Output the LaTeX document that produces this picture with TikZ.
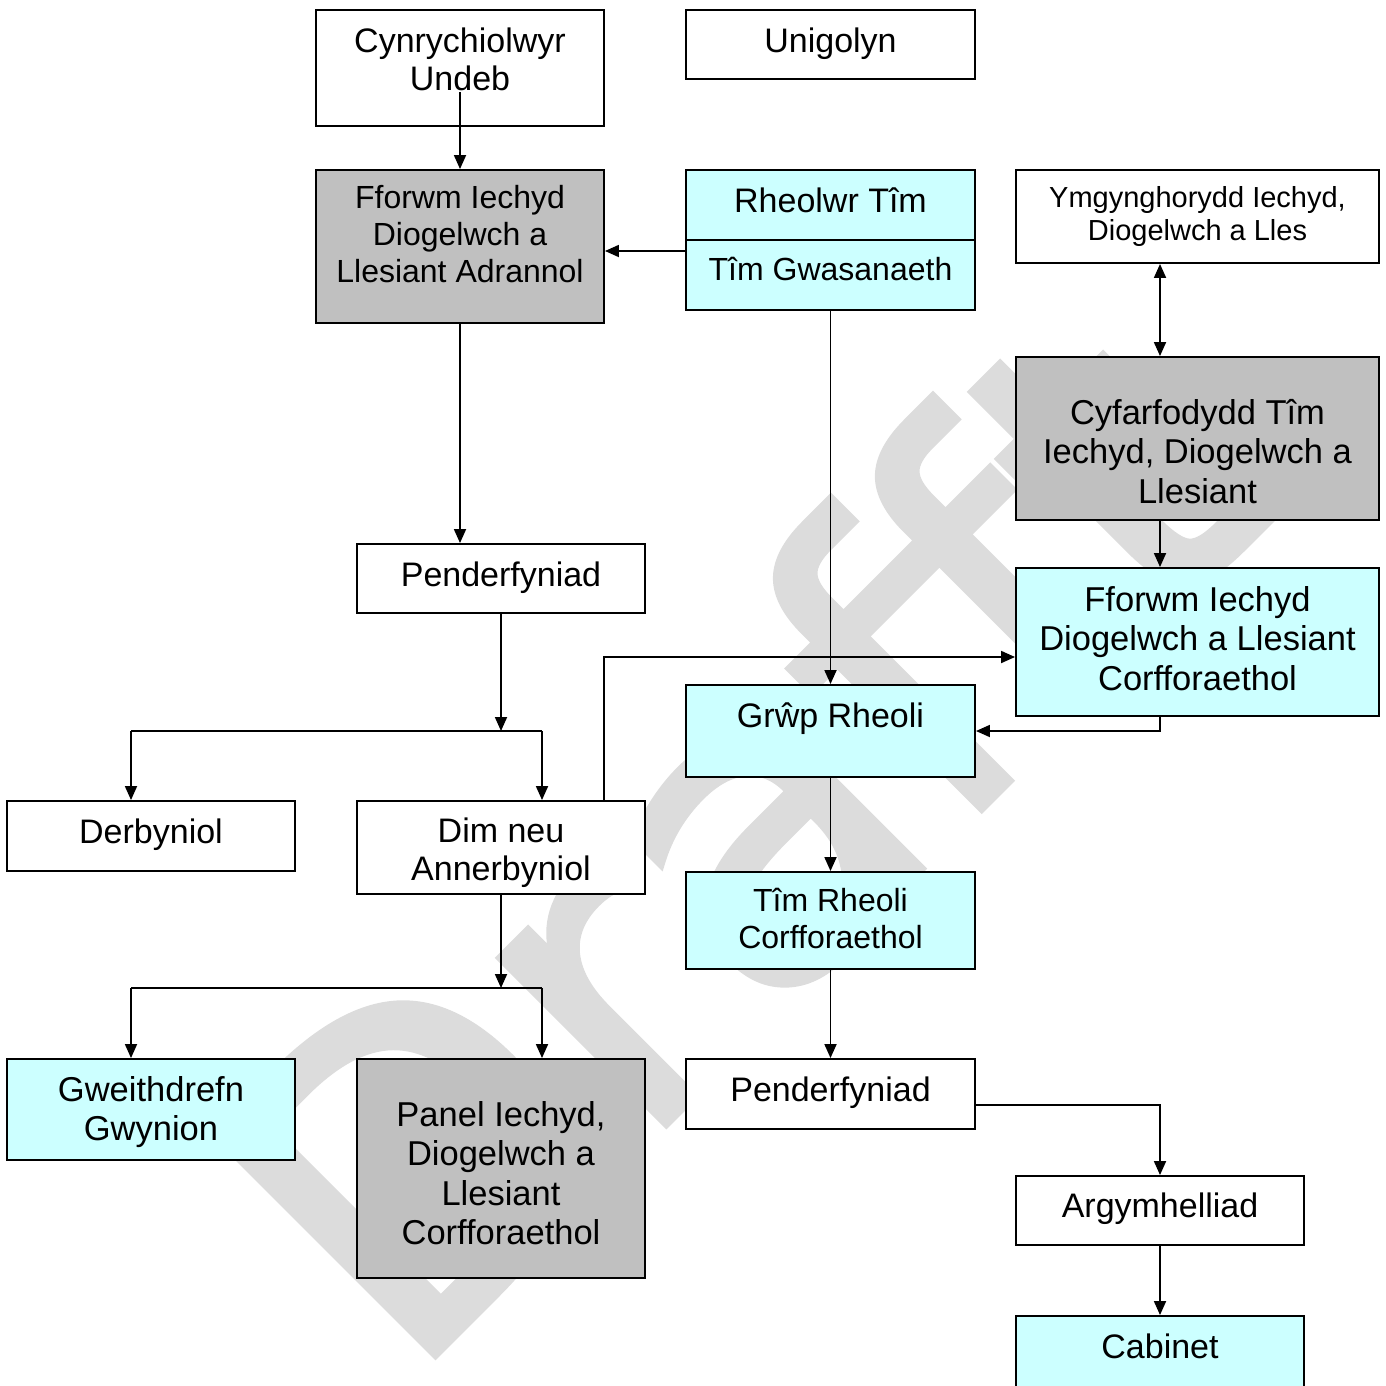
\documentclass[tikz,border=0pt]{standalone}
\usepackage{fontspec}
\setmainfont{Liberation Sans}
\newfontfamily\wmfont[FakeBold=2]{DejaVu Sans}
\usetikzlibrary{arrows.meta,calc}
\definecolor{boxcyan}{HTML}{CCFFFF}
\definecolor{boxgray}{HTML}{C0C0C0}
\definecolor{wmgray}{HTML}{DCDCDC}
\begin{document}
\begin{tikzpicture}[x=1pt,y=-1pt,
  box/.style={draw=black, line width=1.9pt, inner sep=0pt, minimum width=288pt},
  wbox/.style={box, fill=white},
  cbox/.style={box, fill=boxcyan},
  gbox/.style={box, fill=boxgray},
  lbl/.style={inner sep=0pt, align=center, anchor=north},
  fA/.style={lbl, font=\fontsize{34}{38.5}\selectfont},
  fB/.style={lbl, font=\fontsize{32}{37}\selectfont},
  fC/.style={lbl, font=\fontsize{29}{33.5}\selectfont},
  fD/.style={lbl, font=\fontsize{34.5}{39.5}\selectfont},
  tip/.tip={Triangle[length=14pt,width=12pt]},
  link/.style={line width=1.8pt, draw=black},
  conn/.style={link, -tip},
  dconn/.style={link, tip-tip},
]
\useasboundingbox (0,0) rectangle (1386,1385);
% watermark
\node[rotate=45, text=wmgray, inner sep=0pt, font=\wmfont\fontsize{428}{428}\selectfont] (wm) at (728,836) {Drafft};

% boxes
\node[wbox, minimum height=116pt] (cyn) at (460,68) {};
\node[wbox, minimum width=289pt, minimum height=69pt] (uni) at (830.5,44.5) {};
\node[gbox, minimum height=153pt] (fad) at (460,246.5) {};
\node[cbox, minimum width=289pt, minimum height=140pt] (rheol) at (830.5,240) {};
\node[wbox, minimum width=363pt, minimum height=93pt] (ymg) at (1197.5,216.5) {};
\node[gbox, minimum width=363pt, minimum height=163pt] (cyf) at (1197.5,438.5) {};
\node[cbox, minimum width=363pt, minimum height=148pt] (fcor) at (1197.5,642) {};
\node[wbox, minimum height=69pt] (pen1) at (501,578.5) {};
\node[cbox, minimum width=289pt, minimum height=92pt] (grwp) at (830.5,731) {};
\node[wbox, minimum height=70pt] (derb) at (151,836) {};
\node[wbox, minimum height=93pt] (dim) at (501,847.5) {};
\node[cbox, minimum width=289pt, minimum height=97pt] (trc) at (830.5,920.5) {};
\node[cbox, minimum height=101pt] (gwe) at (151,1109.5) {};
\node[gbox, minimum height=219pt] (panel) at (501,1168.5) {};
\node[wbox, minimum width=289pt, minimum height=70pt] (pen2) at (830.5,1094) {};
\node[wbox, minimum height=69pt] (arg) at (1160,1210.5) {};
\node[cbox, minimum height=104pt] (cab) at (1160,1368) {};
\draw[line width=1.9pt] (rheol.west |- 0,240) coordinate (rdivL) -- (rheol.east |- rdivL);

% texts
\node[fA] (cynT) at (460,27.2) {Cynrychiolwyr\\Undeb};
\node[fA] (uniT) at (830.5,27.2) {Unigolyn};
\node[fB] (fadT) at (460,185.6) {Fforwm Iechyd\\Diogelwch a\\Llesiant Adrannol};
\node[fA] (rheolT) at (830.5,187.2) {Rheolwr Tîm};
\node[fB] (gwasT) at (830.5,256.6) {Tîm Gwasanaeth};
\node[fC] (ymgT) at (1197.5,185.8) {Ymgynghorydd Iechyd,\\Diogelwch a Lles};
\node[fD] (cyfT) at (1197.5,398.8) {Cyfarfodydd Tîm\\Iechyd, Diogelwch a\\Llesiant};
\node[fD] (fcorT) at (1197.5,585.8) {Fforwm Iechyd\\Diogelwch a Llesiant\\Corfforaethol};
\node[fA] (pen1T) at (501,561.2) {Penderfyniad};
\node[fA] (grwpT) at (830.5,702.2) {Grŵp Rheoli};
\node[fA] (derbT) at (151,818.2) {Derbyniol};
\node[fA] (dimT) at (501,817.2) {Dim neu\\Annerbyniol};
\node[fB] (trcT) at (830.5,887.6) {Tîm Rheoli\\Corfforaethol};
\node[fD] (gweT) at (151,1076.2) {Gweithdrefn\\Gwynion};
\node[fD] (panelT) at (501,1101.2) {Panel Iechyd,\\Diogelwch a\\Llesiant\\Corfforaethol};
\node[fA] (pen2T) at (830.5,1076.2) {Penderfyniad};
\node[fA] (argT) at (1160,1192.2) {Argymhelliad};
\node[fA] (cabT) at (1160,1333.2) {Cabinet};

% connectors
\coordinate (cynA) at (460,92);
\draw[conn] (cynA) -- (fad.north);
\draw[conn] ([yshift=-11pt]rheol.west) coordinate (r1) -- (r1 -| fad.east);
\draw[conn] (fad.south) -- (fad.south |- pen1.north);
\coordinate (j1) at (501,731);
\coordinate (jL) at (131,731);
\coordinate (jR) at (542,731);
\draw[conn] (pen1.south) -- (j1);
\draw[link] (jL) -- (jR);
\draw[conn] (jL) -- (jL |- derb.north);
\draw[conn] (jR) -- (jR |- dim.north);
\coordinate (k1) at (501,988);
\coordinate (kL) at (131,988);
\coordinate (kR) at (542,988);
\draw[conn] (dim.south) -- (k1);
\draw[link] (kL) -- (kR);
\draw[conn] (kL) -- (kL |- gwe.north);
\draw[conn] (kR) -- (kR |- panel.north);
\draw[conn] ([xshift=103pt]dim.north) |- ([yshift=-15pt]fcor.west);
\draw[conn] (rheol.south) -- (grwp.north);
\draw[dconn] ([xshift=-37.5pt]ymg.south) -- ([xshift=-37.5pt]cyf.north);
\draw[conn] ([xshift=-37.5pt]cyf.south) -- ([xshift=-37.5pt]fcor.north);
\draw[conn] ([xshift=-37.5pt]fcor.south) |- (grwp.east);
\draw[conn] (grwp.south) -- (trc.north);
\draw[conn] (trc.south) -- (pen2.north);
\draw[conn] ([yshift=-11pt]pen2.east) -| (arg.north);
\draw[conn] (arg.south) -- (cab.north);
\end{tikzpicture}
\end{document}
